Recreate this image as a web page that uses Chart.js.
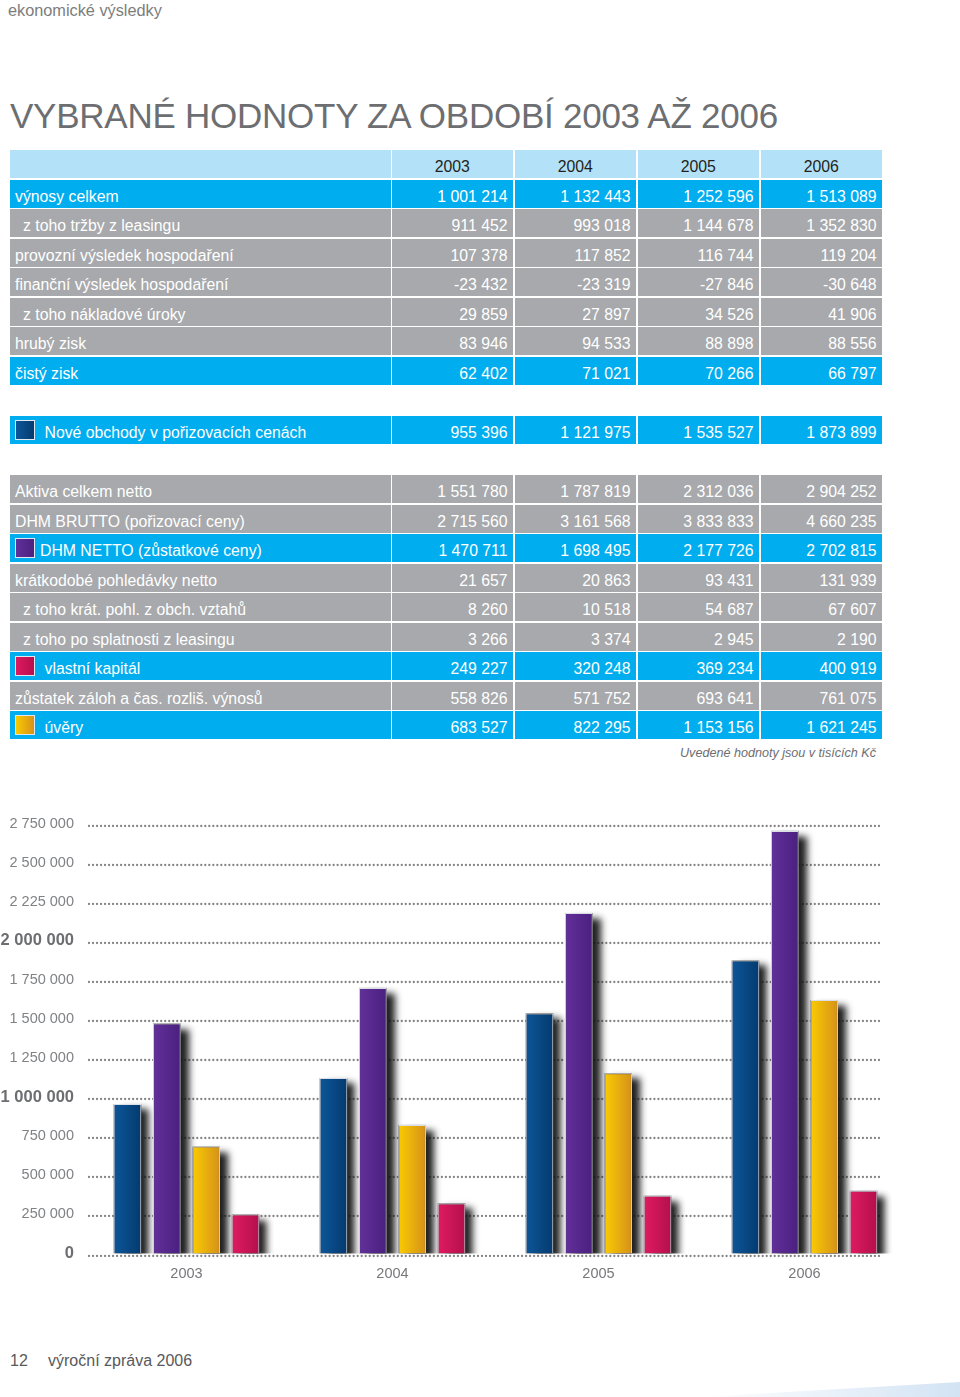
<!DOCTYPE html>
<html lang="cs">
<head>
<meta charset="utf-8">
<title>Vybrané hodnoty za období 2003 až 2006</title>
<script src="https://cdn.jsdelivr.net/npm/chart.js@4.4.1/dist/chart.umd.min.js"></script>
<style>
  html, body { margin: 0; padding: 0; background: #fff; }
  body {
    width: 960px; height: 1397px; position: relative; overflow: hidden;
    font-family: "Liberation Sans", Arial, sans-serif;
  }
  .section { position: absolute; left: 8px; top: 1.5px; font-size: 16.3px; line-height: 16px; color: #7d7d7d; }
  h1 {
    position: absolute; left: 10px; top: 96px; margin: 0;
    font-weight: normal; font-size: 35px; line-height: 40px; letter-spacing: -0.25px;
    color: #6d6e71; white-space: nowrap;
  }
  .row { position: absolute; left: 9.5px; width: 873px; height: 28px; }
  .cell {
    position: absolute; top: 0; height: 28px; line-height: 34px;
    font-size: 15.8px; color: #fff; white-space: nowrap; box-sizing: border-box;
  }
  .lab { left: 0; width: 381px; padding-left: 5.5px; }
  .val { width: 121.5px; text-align: right; padding-right: 5.5px; }
  .blue .cell { background: #00adee; }
  .gray .cell { background: #a7a9ac; }
  .head .cell { background: #b3e2f8; color: #231f20; }
  .head .val { text-align: center; padding-right: 0; }
  .swatch {
    position: absolute; left: 5.5px; top: 4px; width: 18px; height: 18px;
    border: 1px solid #dfe9f2;
  }
  .note {
    position: absolute; right: 84px; top: 745px; font-size: 12.6px; line-height: 16px;
    font-style: italic; color: #6d6e71;
  }
  #chartBox { position: absolute; left: 0; top: 800px; width: 960px; height: 500px; }
  .footer { position: absolute; top: 1352.5px; font-size: 16px; line-height: 16px; color: #58595b; }
  #swoosh { position: absolute; left: 0; top: 1370px; }
</style>
</head>
<body>
<div class="section">ekonomické výsledky</div>
<h1>VYBRANÉ HODNOTY ZA OBDOBÍ 2003 AŽ 2006</h1>
<div id="table"></div>
<div class="note">Uvedené hodnoty jsou v tisících Kč</div>
<div id="chartBox"><canvas id="chart" width="960" height="500"></canvas></div>
<div class="footer" style="left:10px">12</div>
<div class="footer" style="left:48px">výroční zpráva 2006</div>
<svg id="swoosh" width="960" height="27">
  <defs>
    <linearGradient id="sw" x1="0" y1="0" x2="1" y2="0">
      <stop offset="0" stop-color="#ffffff"/>
      <stop offset="1" stop-color="#d3e3f4"/>
    </linearGradient>
  </defs>
  <polygon points="700,27 960,12 960,27" fill="url(#sw)"/>
</svg>

<script>
// values in thousands of CZK
const years = ['2003', '2004', '2005', '2006'];

const vynosyCelkem    = [1001214, 1132443, 1252596, 1513089];
const trzbyZLeasingu  = [911452, 993018, 1144678, 1352830];
const provozniVysl    = [107378, 117852, 116744, 119204];
const financniVysl    = [-23432, -23319, -27846, -30648];
const nakladoveUroky  = [29859, 27897, 34526, 41906];
const hrubyZisk       = [83946, 94533, 88898, 88556];
const cistyZisk       = [62402, 71021, 70266, 66797];
const noveObchody     = [955396, 1121975, 1535527, 1873899];
const aktivaNetto     = [1551780, 1787819, 2312036, 2904252];
const dhmBrutto       = [2715560, 3161568, 3833833, 4660235];
const dhmNetto        = [1470711, 1698495, 2177726, 2702815];
const kratkodobePohl  = [21657, 20863, 93431, 131939];
const kratPohlObch    = [8260, 10518, 54687, 67607];
const poSplatnosti    = [3266, 3374, 2945, 2190];
const vlastniKapital  = [249227, 320248, 369234, 400919];
const zustatekZaloh   = [558826, 571752, 693641, 761075];
const uvery           = [683527, 822295, 1153156, 1621245];

// y axis labels as printed (the original really says 2 225 000)
const yTickLabels = ['0', '250 000', '500 000', '750 000', '1 000 000', '1 250 000',
  '1 500 000', '1 750 000', '2 000 000', '2 225 000', '2 500 000', '2 750 000'];
const boldTicks = [0, 1000000, 2000000];

const swatch = {
  blue:   'linear-gradient(90deg,#0d5699,#053a6e)',
  purple: 'linear-gradient(90deg,#60309a,#4b2180)',
  pink:   'linear-gradient(90deg,#dc1a5f,#b80f4d)',
  yellow: 'linear-gradient(90deg,#f9cb00,#d8901a)'
};

// slot = row position on the 29.55px grid that starts at y=150
const rows = [
  { slot: 1,  label: 'výnosy celkem', values: vynosyCelkem, fill: 'blue' },
  { slot: 2,  label: 'z toho tržby z leasingu', values: trzbyZLeasingu, fill: 'gray', indent: true },
  { slot: 3,  label: 'provozní výsledek hospodaření', values: provozniVysl, fill: 'gray' },
  { slot: 4,  label: 'finanční výsledek hospodaření', values: financniVysl, fill: 'gray' },
  { slot: 5,  label: 'z toho nákladové úroky', values: nakladoveUroky, fill: 'gray', indent: true },
  { slot: 6,  label: 'hrubý zisk', values: hrubyZisk, fill: 'gray' },
  { slot: 7,  label: 'čistý zisk', values: cistyZisk, fill: 'blue' },
  { slot: 9,  label: 'Nové obchody v pořizovacích cenách', values: noveObchody, fill: 'blue', sw: 'blue', tx: 35 },
  { slot: 11, label: 'Aktiva celkem netto', values: aktivaNetto, fill: 'gray' },
  { slot: 12, label: 'DHM BRUTTO (pořizovací ceny)', values: dhmBrutto, fill: 'gray' },
  { slot: 13, label: 'DHM NETTO (zůstatkové ceny)', values: dhmNetto, fill: 'blue', sw: 'purple', tx: 30.5 },
  { slot: 14, label: 'krátkodobé pohledávky netto', values: kratkodobePohl, fill: 'gray' },
  { slot: 15, label: 'z toho krát. pohl. z obch. vztahů', values: kratPohlObch, fill: 'gray', indent: true },
  { slot: 16, label: 'z toho po splatnosti z leasingu', values: poSplatnosti, fill: 'gray', indent: true },
  { slot: 17, label: 'vlastní kapitál', values: vlastniKapital, fill: 'blue', sw: 'pink', tx: 35 },
  { slot: 18, label: 'zůstatek záloh a čas. rozliš. výnosů', values: zustatekZaloh, fill: 'gray' },
  { slot: 19, label: 'úvěry', values: uvery, fill: 'blue', sw: 'yellow', tx: 35 }
];

function fmt(n) {
  const s = String(Math.abs(n)).replace(/\B(?=(\d{3})+(?!\d))/g, ' ');
  return (n < 0 ? '-' : '') + s;
}

function buildTable() {
  const host = document.getElementById('table');
  const rowTop = slot => 150 + slot * 29.55;

  const head = document.createElement('div');
  head.className = 'row head';
  head.style.top = rowTop(0) + 'px';
  let html = '<div class="cell lab"></div>';
  years.forEach((y, j) => {
    html += '<div class="cell val" style="left:' + (382 + 123 * j) + 'px">' + y + '</div>';
  });
  head.innerHTML = html;
  host.appendChild(head);

  rows.forEach(r => {
    const div = document.createElement('div');
    div.className = 'row ' + r.fill;
    div.style.top = rowTop(r.slot) + 'px';
    const pad = r.sw ? r.tx : (r.indent ? 13.5 : 5.5);
    let h = '<div class="cell lab" style="padding-left:' + pad + 'px">';
    if (r.sw) h += '<span class="swatch" style="background:' + swatch[r.sw] + '"></span>';
    h += r.label + '</div>';
    r.values.forEach((v, j) => {
      h += '<div class="cell val" style="left:' + (382 + 123 * j) + 'px">' + fmt(v) + '</div>';
    });
    div.innerHTML = h;
    host.appendChild(div);
  });
}
buildTable();

// horizontal gradient across each bar
function barFill(c0, c1) {
  return function (ctx) {
    const chart = ctx.chart;
    const el = chart.getDatasetMeta(ctx.datasetIndex).data[ctx.dataIndex];
    if (!el || !isFinite(el.x) || !isFinite(el.width)) return c0;
    const g = chart.ctx.createLinearGradient(el.x - el.width / 2, 0, el.x + el.width / 2, 0);
    g.addColorStop(0, c0);
    g.addColorStop(1, c1);
    return g;
  };
}

const FONT = '"Liberation Sans", Arial, sans-serif';
const isBold = c => !!(c && c.tick && boldTicks.includes(c.tick.value));

// dotted guide lines and the soft drop shadows, both painted behind the bars
const dottedGrid = {
  id: 'dottedGrid',
  beforeDatasetsDraw(chart) {
    const c = chart.ctx;
    const y = chart.scales.y;
    c.save();
    c.strokeStyle = '#858585';
    c.lineWidth = 2.3;
    c.lineCap = 'round';
    c.setLineDash([0.01, 4]);
    y.ticks.forEach(t => {
      const py = Math.round(y.getPixelForValue(t.value)) + 2;
      c.beginPath();
      c.moveTo(89, py);
      c.lineTo(882, py);
      c.stroke();
    });
    c.restore();

    // shadow shapes follow the laid-out bar elements
    c.save();
    c.beginPath();
    c.rect(chart.chartArea.left, chart.chartArea.top - 10, chart.chartArea.width + 30, chart.chartArea.height + 10);
    c.clip();
    c.shadowColor = 'rgba(20,20,20,0.95)';
    c.shadowBlur = 7;
    c.shadowOffsetX = 8;
    c.shadowOffsetY = 5;
    c.fillStyle = '#444';
    chart.data.datasets.forEach((ds, i) => {
      chart.getDatasetMeta(i).data.forEach(el => {
        const x0 = el.x - el.width / 2;
        c.fillRect(x0, el.y, el.width, el.base - el.y);
      });
    });
    c.restore();
  }
};

const chart = new Chart(document.getElementById('chart'), {
  type: 'bar',
  data: {
    labels: years,
    datasets: [
      { label: 'Nové obchody v pořizovacích cenách', data: noveObchody, backgroundColor: barFill('#0d5699', '#043a6f') },
      { label: 'DHM NETTO (zůstatkové ceny)', data: dhmNetto, backgroundColor: barFill('#623099', '#4a2080') },
      { label: 'úvěry', data: uvery, backgroundColor: barFill('#fbcb02', '#d5911a') },
      { label: 'vlastní kapitál', data: vlastniKapital, backgroundColor: barFill('#df1b60', '#b40f4c') }
    ]
  },
  options: {
    responsive: false,
    animation: false,
    layout: { padding: { left: 0, right: 52.5, top: 23.5, bottom: 0 } },
    datasets: {
      bar: {
        categoryPercentage: 0.764,
        barPercentage: 0.70,
        borderWidth: 1,
        borderColor: 'rgba(235,240,248,0.9)'
      }
    },
    plugins: {
      legend: { display: false },
      tooltip: { enabled: false }
    },
    scales: {
      x: {
        grid: { display: false, drawTicks: false },
        border: { display: false },
        ticks: {
          padding: 11.5,
          maxRotation: 0,
          color: '#77787b',
          font: { family: FONT, size: 14.5 }
        },
        afterFit(scale) { scale.height = 46.5; }
      },
      y: {
        min: 0,
        max: 2750000,
        grid: { display: false, drawTicks: false },
        border: { display: false },
        ticks: {
          stepSize: 250000,
          padding: 9.5,
          callback: v => yTickLabels[Math.round(v / 250000)],
          color: c => isBold(c) ? '#6d6e71' : '#808285',
          font: c => isBold(c)
            ? { family: FONT, size: 16.5, weight: 'bold' }
            : { family: FONT, size: 14.5, weight: 'normal' }
        },
        afterFit(scale) { scale.width = 83.5; }
      }
    }
  },
  plugins: [dottedGrid]
});
// second pass so the gradients can use the laid-out bar positions
chart.update('none');
</script>
</body>
</html>
